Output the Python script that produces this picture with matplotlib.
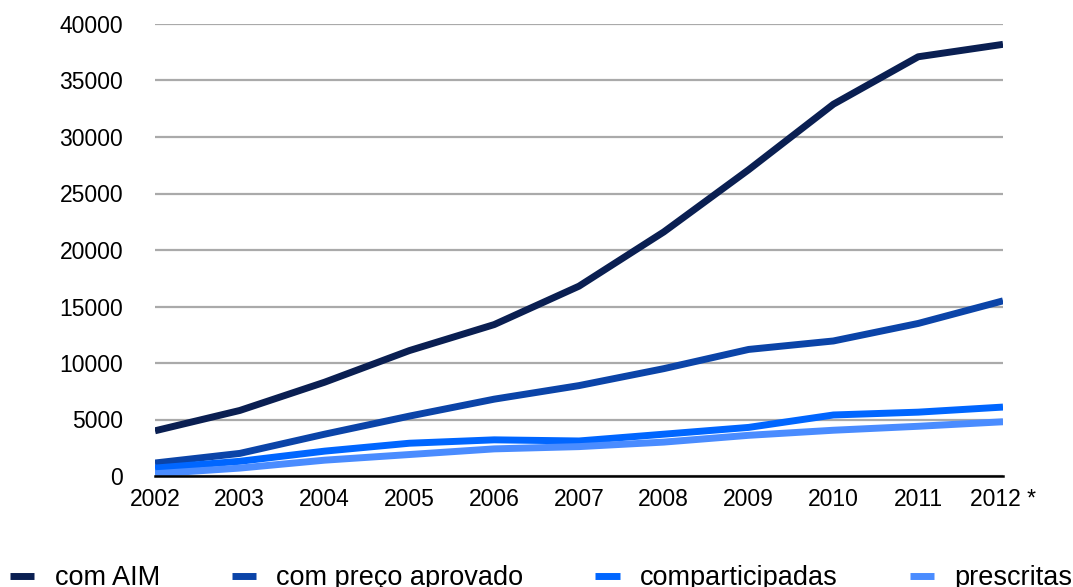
import matplotlib.pyplot as plt

plt.rcParams['font.family'] = ['Liberation Sans', 'DejaVu Sans']

years = [2002, 2003, 2004, 2005, 2006, 2007, 2008, 2009, 2010, 2011, 2012]
year_labels = ['2002', '2003', '2004', '2005', '2006', '2007', '2008', '2009', '2010', '2011', '2012 *']

com_aim = [4000, 5800, 8300, 11100, 13400, 16800, 21600, 27100, 32900, 37100, 38200]
com_preco = [1150, 2000, 3700, 5300, 6800, 8000, 9500, 11200, 11950, 13500, 15500]
comparticipadas = [700, 1300, 2200, 2900, 3200, 3100, 3700, 4300, 5400, 5650, 6100]
prescritas = [200, 700, 1400, 1900, 2400, 2600, 3000, 3600, 4050, 4400, 4800]

series = [
    ('com AIM', com_aim, '#0a1f52'),
    ('com preço aprovado', com_preco, '#0b44a8'),
    ('comparticipadas', comparticipadas, '#0066ff'),
    ('prescritas', prescritas, '#4a8cff'),
]

fig = plt.figure(figsize=(10.73, 5.87), dpi=100)
ax = fig.add_axes([155 / 1073, 111 / 587, 848 / 1073, 452 / 587])

for label, vals, color in series:
    ax.plot(years, vals, color=color, lw=5, label=label,
            solid_joinstyle='round', solid_capstyle='butt', zorder=3)

ax.set_xlim(2002, 2012)
ax.set_ylim(0, 40000)
ax.set_yticks(range(0, 40001, 5000))
ax.set_xticks(years)
ax.set_xticklabels(year_labels)
ax.yaxis.grid(True, color='#aaaaaa', lw=1.6)
ax.set_axisbelow(True)
for s in ['left', 'right', 'top']:
    ax.spines[s].set_visible(False)
ax.spines['bottom'].set_color('black')
ax.spines['bottom'].set_linewidth(1.8)
ax.spines['bottom'].set_zorder(4)
ax.tick_params(axis='both', length=0, labelsize=16.5)
ax.tick_params(axis='y', pad=23)
ax.tick_params(axis='x', pad=9)

leg = fig.legend(loc='center left', bbox_to_anchor=(10 / 1073, 9 / 587),
                 bbox_transform=fig.transFigure, ncol=4, frameon=False,
                 fontsize=19.5, handlelength=0.9, handletextpad=0.75,
                 columnspacing=2.65, borderpad=0, borderaxespad=0)

fig.savefig('out.png', dpi=100)
